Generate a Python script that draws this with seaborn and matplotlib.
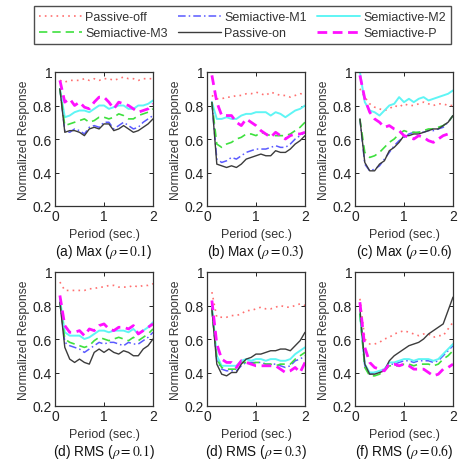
import matplotlib
matplotlib.use("Agg")
import matplotlib.pyplot as plt
import seaborn as sns
import pandas as pd

sns.set_theme(style="white")
plt.rcParams["font.family"] = ["Liberation Sans", "DejaVu Sans"]
plt.rcParams["mathtext.fontset"] = "stix"

period = [0.1, 0.2, 0.3, 0.4, 0.5, 0.6, 0.7, 0.8, 0.9, 1.0,
          1.1, 1.2, 1.3, 1.4, 1.5, 1.6, 1.7, 1.8, 1.9, 2.0]

series_names = ["Passive-off", "Semiactive-M1", "Semiactive-M2",
                "Semiactive-M3", "Passive-on", "Semiactive-P"]

# (a) Max, rho = 0.1
max01_off = [0.95, 0.94, 0.95, 0.95, 0.95, 0.96, 0.95, 0.96, 0.95, 0.96, 0.96, 0.95, 0.96, 0.97, 0.96, 0.96, 0.95, 0.96, 0.96, 0.96]
max01_m1 = [0.90, 0.65, 0.64, 0.66, 0.65, 0.63, 0.67, 0.68, 0.67, 0.70, 0.70, 0.66, 0.68, 0.70, 0.68, 0.66, 0.67, 0.70, 0.72, 0.74]
max01_m2 = [0.90, 0.73, 0.74, 0.76, 0.77, 0.77, 0.76, 0.78, 0.80, 0.80, 0.78, 0.79, 0.80, 0.80, 0.78, 0.78, 0.80, 0.80, 0.81, 0.83]
max01_m3 = [0.90, 0.68, 0.69, 0.70, 0.71, 0.72, 0.70, 0.71, 0.73, 0.73, 0.72, 0.73, 0.75, 0.74, 0.72, 0.72, 0.74, 0.75, 0.76, 0.78]
max01_on = [0.90, 0.64, 0.65, 0.65, 0.64, 0.62, 0.66, 0.67, 0.66, 0.69, 0.69, 0.65, 0.66, 0.68, 0.66, 0.64, 0.65, 0.67, 0.69, 0.72]
max01_p = [0.95, 0.82, 0.84, 0.80, 0.82, 0.79, 0.78, 0.82, 0.85, 0.85, 0.82, 0.78, 0.82, 0.81, 0.80, 0.78, 0.76, 0.77, 0.78, 0.81]

# (b) Max, rho = 0.3
max03_off = [0.86, 0.84, 0.84, 0.85, 0.85, 0.86, 0.86, 0.87, 0.87, 0.88, 0.87, 0.86, 0.88, 0.87, 0.86, 0.86, 0.85, 0.86, 0.87, 0.87]
max03_m1 = [0.82, 0.48, 0.46, 0.47, 0.49, 0.48, 0.50, 0.52, 0.53, 0.54, 0.54, 0.54, 0.55, 0.56, 0.55, 0.55, 0.57, 0.60, 0.62, 0.64]
max03_m2 = [0.82, 0.72, 0.72, 0.73, 0.72, 0.72, 0.74, 0.75, 0.75, 0.76, 0.76, 0.76, 0.74, 0.76, 0.75, 0.73, 0.75, 0.77, 0.78, 0.80]
max03_m3 = [0.82, 0.57, 0.55, 0.57, 0.58, 0.60, 0.61, 0.63, 0.63, 0.62, 0.64, 0.63, 0.62, 0.62, 0.62, 0.62, 0.63, 0.65, 0.67, 0.70]
max03_on = [0.82, 0.45, 0.44, 0.43, 0.44, 0.43, 0.45, 0.48, 0.49, 0.50, 0.51, 0.50, 0.50, 0.53, 0.52, 0.52, 0.54, 0.57, 0.59, 0.62]
max03_p = [0.98, 0.82, 0.74, 0.74, 0.74, 0.70, 0.68, 0.72, 0.70, 0.68, 0.65, 0.63, 0.61, 0.64, 0.62, 0.60, 0.62, 0.63, 0.63, 0.64]

# (c) Max, rho = 0.6
max06_off = [0.90, 0.85, 0.81, 0.79, 0.78, 0.77, 0.78, 0.80, 0.79, 0.81, 0.80, 0.80, 0.81, 0.82, 0.81, 0.80, 0.81, 0.81, 0.80, 0.80]
max06_m1 = [0.72, 0.45, 0.41, 0.42, 0.44, 0.48, 0.52, 0.56, 0.59, 0.61, 0.63, 0.64, 0.64, 0.64, 0.65, 0.65, 0.66, 0.67, 0.70, 0.74]
max06_m2 = [1.00, 0.82, 0.77, 0.76, 0.74, 0.77, 0.80, 0.81, 0.85, 0.82, 0.84, 0.82, 0.84, 0.85, 0.83, 0.84, 0.85, 0.86, 0.87, 0.89]
max06_m3 = [0.72, 0.52, 0.49, 0.50, 0.52, 0.55, 0.58, 0.60, 0.63, 0.65, 0.64, 0.64, 0.64, 0.65, 0.66, 0.66, 0.67, 0.68, 0.70, 0.74]
max06_on = [0.72, 0.46, 0.41, 0.41, 0.45, 0.47, 0.53, 0.55, 0.58, 0.62, 0.62, 0.63, 0.63, 0.64, 0.65, 0.66, 0.66, 0.68, 0.70, 0.74]
max06_p = [0.98, 0.84, 0.76, 0.72, 0.70, 0.67, 0.68, 0.66, 0.65, 0.62, 0.61, 0.60, 0.62, 0.61, 0.59, 0.58, 0.60, 0.62, 0.63, 0.64]

# (d) RMS, rho = 0.1
rms01_off = [0.94, 0.89, 0.89, 0.89, 0.89, 0.89, 0.90, 0.90, 0.91, 0.91, 0.92, 0.92, 0.91, 0.91, 0.91, 0.92, 0.91, 0.92, 0.92, 0.93]
rms01_m1 = [0.82, 0.58, 0.56, 0.55, 0.54, 0.52, 0.54, 0.56, 0.58, 0.57, 0.58, 0.58, 0.57, 0.56, 0.58, 0.57, 0.57, 0.59, 0.61, 0.64]
rms01_m2 = [0.84, 0.64, 0.62, 0.62, 0.62, 0.60, 0.61, 0.63, 0.65, 0.65, 0.64, 0.65, 0.65, 0.65, 0.64, 0.66, 0.63, 0.65, 0.67, 0.70]
rms01_m3 = [0.82, 0.60, 0.58, 0.57, 0.56, 0.55, 0.56, 0.59, 0.61, 0.60, 0.59, 0.60, 0.61, 0.60, 0.59, 0.61, 0.59, 0.61, 0.63, 0.66]
rms01_on = [0.82, 0.55, 0.48, 0.46, 0.48, 0.46, 0.45, 0.52, 0.54, 0.52, 0.54, 0.52, 0.51, 0.53, 0.52, 0.50, 0.50, 0.54, 0.56, 0.60]
rms01_p = [0.86, 0.68, 0.64, 0.64, 0.65, 0.62, 0.66, 0.65, 0.68, 0.69, 0.66, 0.65, 0.67, 0.67, 0.66, 0.68, 0.63, 0.65, 0.67, 0.69]

# (e) RMS, rho = 0.3
rms03_off = [0.88, 0.73, 0.73, 0.73, 0.74, 0.74, 0.75, 0.77, 0.77, 0.78, 0.79, 0.78, 0.78, 0.79, 0.80, 0.79, 0.79, 0.80, 0.81, 0.80]
rms03_m1 = [0.78, 0.47, 0.42, 0.41, 0.41, 0.41, 0.44, 0.46, 0.46, 0.46, 0.46, 0.45, 0.45, 0.45, 0.44, 0.43, 0.44, 0.47, 0.48, 0.50]
rms03_m2 = [0.80, 0.50, 0.44, 0.44, 0.44, 0.44, 0.47, 0.48, 0.47, 0.48, 0.48, 0.47, 0.48, 0.48, 0.47, 0.47, 0.48, 0.51, 0.53, 0.55]
rms03_m3 = [0.78, 0.48, 0.43, 0.42, 0.42, 0.42, 0.46, 0.46, 0.45, 0.46, 0.46, 0.45, 0.45, 0.44, 0.45, 0.45, 0.45, 0.48, 0.50, 0.52]
rms03_on = [0.78, 0.45, 0.39, 0.38, 0.40, 0.40, 0.45, 0.48, 0.49, 0.51, 0.51, 0.52, 0.53, 0.53, 0.54, 0.54, 0.53, 0.56, 0.59, 0.64]
rms03_p = [0.83, 0.57, 0.48, 0.46, 0.46, 0.43, 0.47, 0.46, 0.45, 0.44, 0.44, 0.44, 0.44, 0.44, 0.42, 0.40, 0.41, 0.43, 0.40, 0.46]

# (f) RMS, rho = 0.6
rms06_off = [0.84, 0.60, 0.57, 0.57, 0.58, 0.60, 0.61, 0.63, 0.64, 0.65, 0.64, 0.63, 0.62, 0.63, 0.63, 0.61, 0.62, 0.62, 0.66, 0.70]
rms06_m1 = [0.75, 0.44, 0.39, 0.40, 0.40, 0.42, 0.45, 0.45, 0.46, 0.47, 0.47, 0.46, 0.47, 0.47, 0.47, 0.46, 0.47, 0.50, 0.53, 0.56]
rms06_m2 = [0.75, 0.45, 0.40, 0.40, 0.41, 0.42, 0.46, 0.46, 0.47, 0.48, 0.48, 0.47, 0.48, 0.48, 0.48, 0.47, 0.48, 0.51, 0.54, 0.57]
rms06_m3 = [0.75, 0.43, 0.38, 0.38, 0.39, 0.41, 0.44, 0.44, 0.44, 0.45, 0.45, 0.44, 0.45, 0.45, 0.45, 0.44, 0.45, 0.48, 0.50, 0.53]
rms06_on = [0.78, 0.45, 0.39, 0.39, 0.40, 0.41, 0.47, 0.50, 0.52, 0.54, 0.56, 0.57, 0.58, 0.60, 0.63, 0.65, 0.67, 0.69, 0.77, 0.85]
rms06_p = [0.82, 0.55, 0.46, 0.43, 0.42, 0.41, 0.45, 0.45, 0.44, 0.45, 0.44, 0.42, 0.42, 0.42, 0.40, 0.38, 0.39, 0.42, 0.43, 0.45]

panels = [
    ("(a) Max", "0.1", [max01_off, max01_m1, max01_m2, max01_m3, max01_on, max01_p]),
    ("(b) Max", "0.3", [max03_off, max03_m1, max03_m2, max03_m3, max03_on, max03_p]),
    ("(c) Max", "0.6", [max06_off, max06_m1, max06_m2, max06_m3, max06_on, max06_p]),
    ("(d) RMS", "0.1", [rms01_off, rms01_m1, rms01_m2, rms01_m3, rms01_on, rms01_p]),
    ("(d) RMS", "0.3", [rms03_off, rms03_m1, rms03_m2, rms03_m3, rms03_on, rms03_p]),
    ("(f) RMS", "0.6", [rms06_off, rms06_m1, rms06_m2, rms06_m3, rms06_on, rms06_p]),
]

styles = {
    "Passive-off":   dict(color="#ff7070", linestyle=(0, (1, 2.5)), linewidth=1.2),
    "Semiactive-M1": dict(color="#5a5aff", linestyle=(0, (5, 2, 1, 2)), linewidth=1.1),
    "Semiactive-M2": dict(color="#5ff5f5", linestyle="-", linewidth=1.4),
    "Semiactive-M3": dict(color="#3ee03e", linestyle=(0, (5, 3)), linewidth=1.2),
    "Passive-on":    dict(color="#3c3c3c", linestyle="-", linewidth=1.0),
    "Semiactive-P":  dict(color="#ff10ff", linestyle=(0, (3.5, 2)), linewidth=2.0),
}

W, H = 459, 464
fig = plt.figure(figsize=(W / 100, H / 100), dpi=100)

lefts = [55, 207, 355]
tops = [73, 273]
ax_w, ax_h = 98, 134

handles = {}
for i, (title, rho, values) in enumerate(panels):
    r, c = divmod(i, 3)
    left = lefts[c] / W
    bottom = 1 - (tops[r] + ax_h) / H
    ax = fig.add_axes([left, bottom, ax_w / W, ax_h / H])
    df = pd.DataFrame({name: vals for name, vals in zip(series_names, values)})
    df["Period"] = period
    for name in series_names:
        sns.lineplot(data=df, x="Period", y=name, ax=ax, label=name,
                     legend=False, **styles[name])
    for line, name in zip(ax.get_lines(), series_names):
        handles[name] = line
    ax.set_xlim(0, 2)
    ax.set_ylim(0.2, 1.0)
    ax.set_xticks([0, 1, 2])
    ax.set_yticks([0.2, 0.4, 0.6, 0.8, 1.0])
    ax.set_xticklabels(["0", "1", "2"])
    ax.set_yticklabels(["0.2", "0.4", "0.6", "0.8", "1"])
    ax.tick_params(direction="in", length=3, width=0.7, labelsize=10,
                   top=True, right=True, bottom=True, left=True, pad=2,
                   colors="#222222")
    for sp in ax.spines.values():
        sp.set_visible(True)
        sp.set_color("#333333")
        sp.set_linewidth(0.9)
    ax.set_xlabel("Period (sec.)", fontsize=9, labelpad=4, color="#333333")
    ax.set_ylabel("Normalized Response", fontsize=8.7, labelpad=2, color="#333333")
    ax.text(0.5, -0.335, title + r" ($\rho = " + rho + r"$)",
            transform=ax.transAxes, ha="center", va="center",
            fontsize=9.8, color="#111111")

order = ["Passive-off", "Semiactive-M3", "Semiactive-M1",
         "Passive-on", "Semiactive-M2", "Semiactive-P"]
leg = fig.legend([handles[n] for n in order], order,
                 loc="upper left",
                 bbox_to_anchor=(34 / W, 1 - 47 / H, 417 / W, 40 / H),
                 mode="expand", ncol=3, fontsize=9, frameon=True,
                 fancybox=False, handlelength=3.4, handletextpad=0.3,
                 columnspacing=0.6, borderpad=0.4, labelspacing=0.35,
                 borderaxespad=0)
leg.get_frame().set_edgecolor("#222222")
leg.get_frame().set_linewidth(1.0)
for t in leg.get_texts():
    t.set_color("#333333")

fig.savefig("out.png", dpi=100, facecolor="white")
